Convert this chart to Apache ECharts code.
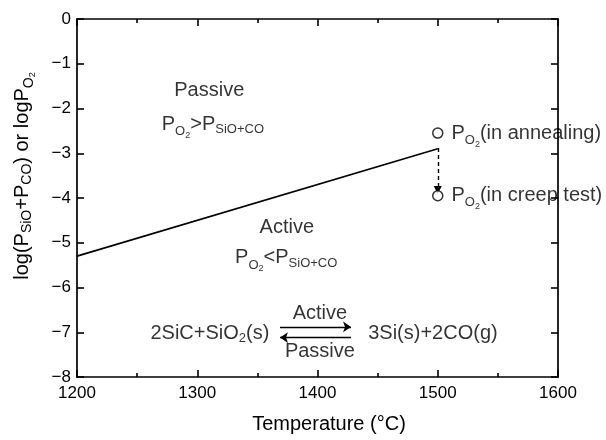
<!DOCTYPE html>
<html>
<head>
<meta charset="utf-8">
<script src="https://cdn.jsdelivr.net/npm/echarts@6/dist/echarts.min.js"></script>
<style>html,body{margin:0;padding:0;background:#fff;}#c{width:606px;height:440px;}</style>
</head>
<body>
<div id="c"></div>
<script>
// ---- data ----
const xTicks = [1200, 1300, 1400, 1500, 1600];
const yTicks = [0, -1, -2, -3, -4, -5, -6, -7, -8];
const boundaryT = [1200, 1500];
const boundaryLogP = [-5.3, -2.9];
const o2T = [1500, 1500];
const o2LogP = [-2.55, -3.95];
const o2Labels = ['{m|P}{sO|O}{ss|2}{m|(in annealing)}', '{m|P}{sO|O}{ss|2}{m|(in creep test)}'];
const dropArrow = [[1500, -2.88], [1500, -3.82]];
const forwardArrow = [[1368.8, -6.88], [1427.9, -6.88]];
const backwardArrow = [[1427.9, -7.12], [1368.8, -7.12]];
const notes = [
  {t: 1310, v: -1.60, text: '{m|Passive}'},
  {t: 1313, v: -2.36, text: '{m|P}{sO|O}{ss|2}{m|>P}{s|SiO+CO}'},
  {t: 1374.5, v: -4.67, text: '{m|Active}'},
  {t: 1374, v: -5.34, text: '{m|P}{sO|O}{ss|2}{m|<P}{s|SiO+CO}'},
  {t: 1310.5, v: -7.02, text: '{m|2SiC+SiO}{s2|2}{m|(s)}'},
  {t: 1496, v: -7.02, text: '{m|3Si(s)+2CO(g)}'},
  {t: 1402, v: -6.57, text: '{m|Active}'},
  {t: 1402, v: -7.44, text: '{m|Passive}'}
];

const FF = '"Liberation Sans", Arial, sans-serif';
const rich = {
  m: {fontSize: 20, fontFamily: FF, color: '#000'},
  s: {fontSize: 13, fontFamily: FF, color: '#000', padding: [10, 0, 0, 0]},
  s2: {fontSize: 13, fontFamily: FF, color: '#000', padding: [10, 0, 0, 0]},
  sO: {fontSize: 13, fontFamily: FF, color: '#000', padding: [14, 0, 0, 0]},
  ss: {fontSize: 9, fontFamily: FF, color: '#000', padding: [22, 0, 0, 0]}
};
const richY = {
  m: {fontSize: 20, fontFamily: FF, color: '#000'},
  s: {fontSize: 14, fontFamily: FF, color: '#000', padding: [10, 0, 0, 0]},
  sO: {fontSize: 14, fontFamily: FF, color: '#000', padding: [14, 0, 0, 0]},
  ss: {fontSize: 9, fontFamily: FF, color: '#000', padding: [22, 0, 0, 0]}
};

const chart = echarts.init(document.getElementById('c'), null, {renderer: 'canvas'});
function axisLine() { return {show: true, onZero: false, lineStyle: {color: '#000', width: 1.7}}; }
function tick() { return {show: true, inside: true, length: 7, lineStyle: {color: '#000', width: 1.6}}; }
function minor() { return {show: true, splitNumber: 2, length: 4, lineStyle: {color: '#000', width: 1.6}}; }
const labelFmtY = v => (v === 0 ? '0' : '\u2212' + Math.abs(v));

const option = {
  animation: false,
  backgroundColor: '#fff',
  grid: {left: 77, right: 48, top: 19, bottom: 63, containLabel: false},
  xAxis: [
    {type: 'value', position: 'bottom', min: xTicks[0], max: xTicks[xTicks.length - 1], interval: xTicks[1] - xTicks[0],
     axisLine: axisLine(), axisTick: tick(), minorTick: minor(),
     axisLabel: {color: '#000', fontSize: 17, fontFamily: FF, margin: 8, formatter: v => String(v)},
     splitLine: {show: false}},
    {type: 'value', position: 'top', min: xTicks[0], max: xTicks[xTicks.length - 1], interval: xTicks[1] - xTicks[0],
     axisLine: axisLine(), axisTick: tick(), minorTick: minor(),
     axisLabel: {show: false}, splitLine: {show: false}}
  ],
  yAxis: [
    {type: 'value', position: 'left', min: yTicks[yTicks.length - 1], max: yTicks[0], interval: 1,
     axisLine: axisLine(), axisTick: tick(),
     axisLabel: {color: '#000', fontSize: 17, fontFamily: FF, margin: 6, formatter: labelFmtY},
     splitLine: {show: false}},
    {type: 'value', position: 'right', min: yTicks[yTicks.length - 1], max: yTicks[0], interval: 1,
     axisLine: axisLine(), axisTick: tick(),
     axisLabel: {show: false}, splitLine: {show: false}}
  ],
  series: [
    {type: 'line', data: boundaryT.map((t, i) => [t, boundaryLogP[i]]), symbol: 'none',
     lineStyle: {color: '#000', width: 1.7}, z: 3},
    {type: 'lines', coordinateSystem: 'cartesian2d',
     data: [{coords: dropArrow}],
     symbol: ['none', 'triangle'], symbolSize: [0, 8],
     lineStyle: {color: '#000', width: 1.4, type: [4, 3], opacity: 1}, z: 3},
    {type: 'lines', coordinateSystem: 'cartesian2d',
     data: [{coords: forwardArrow}, {coords: backwardArrow}],
     symbol: ['none', 'arrow'], symbolSize: 8,
     lineStyle: {color: '#000', width: 1.4, opacity: 1}, z: 3},
    {type: 'scatter', data: o2T.map((t, i) => ({value: [t, o2LogP[i]], label: {formatter: o2Labels[i]}})),
     symbol: 'circle', symbolSize: 10,
     itemStyle: {color: '#fff', borderColor: '#000', borderWidth: 1.5},
     label: {show: true, position: 'right', distance: 8, color: '#000', rich}, z: 4},
    {type: 'scatter', data: notes.map(n => ({value: [n.t, n.v], label: {formatter: n.text}})),
     symbolSize: 0, silent: true,
     label: {show: true, position: 'inside', color: '#000', textBorderWidth: 0, rich}, z: 5}
  ],
  graphic: [
    {type: 'text', x: 329, y: 424, style: {text: 'Temperature (°C)', font: '20px ' + FF, fill: '#000', align: 'center', verticalAlign: 'middle'}},
    {type: 'text', x: 22, y: 176, rotation: Math.PI / 2,
     style: {text: '{m|log(P}{s|SiO}{m|+P}{s|CO}{m|) or logP}{sO|O}{ss|2}', rich: richY, fill: '#000', align: 'center', verticalAlign: 'middle'}}
  ]
};
chart.setOption(option);
</script>
</body>
</html>
